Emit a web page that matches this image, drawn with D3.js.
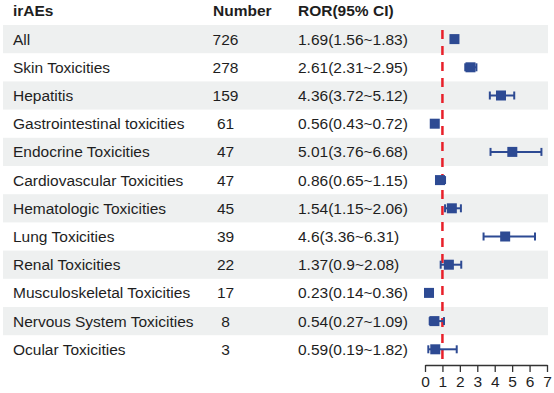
<!DOCTYPE html>
<html>
<head>
  <meta charset="utf-8">
  <script src="https://d3js.org/d3.v7.min.js"></script>
  <style>
    body { margin: 0; background: #fff; }
    text { font-family: "Liberation Sans", Arial, sans-serif; fill: #1e1e1e; }
  </style>
</head>
<body>
<script>
  // irAE categories and their report counts
  var categories = ["All", "Skin Toxicities", "Hepatitis", "Gastrointestinal toxicities",
    "Endocrine Toxicities", "Cardiovascular Toxicities", "Hematologic Toxicities",
    "Lung Toxicities", "Renal Toxicities", "Musculoskeletal Toxicities",
    "Nervous System Toxicities", "Ocular Toxicities"];
  var numbers = [726, 278, 159, 61, 47, 47, 45, 39, 22, 17, 8, 3];

  // ROR and 95% CI
  var ror   = [1.69, 2.61, 4.36, 0.56, 5.01, 0.86, 1.54, 4.6, 1.37, 0.23, 0.54, 0.59];
  var lower = [1.56, 2.31, 3.72, 0.43, 3.76, 0.65, 1.15, 3.36, 0.9, 0.14, 0.27, 0.19];
  var upper = [1.83, 2.95, 5.12, 0.72, 6.68, 1.15, 2.06, 6.31, 2.08, 0.36, 1.09, 1.82];

  var xTicks = [0, 1, 2, 3, 4, 5, 6, 7];
  var headers = ["irAEs", "Number", "ROR(95% CI)"];

  var width = 554, height = 393;
  var blue = "#2d4a93", red = "#e8202a";
  var fs = "15.5px";

  var svg = d3.select("body").append("svg")
      .attr("width", width)
      .attr("height", height);

  var y = d3.scaleBand()
      .domain(categories)
      .range([25, 25 + categories.length * 28.2]);
  var bw = y.bandwidth();
  function cy(c) { return y(c) + bw / 2; }

  var x = d3.scaleLinear().domain([0, 7]).range([425, 547]);

  var rows = categories.map(function (c, i) {
    return { name: c, n: numbers[i], ror: ror[i], lo: lower[i], hi: upper[i] };
  });

  // alternating shaded bands
  svg.selectAll("rect.band")
      .data(rows.filter(function (d, i) { return i % 2 === 0; }))
      .enter().append("rect")
      .attr("class", "band")
      .attr("x", 3)
      .attr("width", 545)
      .attr("y", function (d) { return y(d.name); })
      .attr("height", bw)
      .style("fill", "#eef0f0");

  // headers
  var colX = [13, 213, 298];
  svg.selectAll("text.head")
      .data(headers)
      .enter().append("text")
      .attr("class", "head")
      .attr("x", function (d, i) { return colX[i]; })
      .attr("y", 16)
      .style("font-size", fs)
      .style("font-weight", "bold")
      .text(function (d) { return d; });

  var rowText = svg.selectAll("g.row")
      .data(rows)
      .enter().append("g")
      .attr("class", "row")
      .attr("transform", function (d) { return "translate(0," + cy(d.name) + ")"; });

  rowText.append("text")
      .attr("x", 13).attr("dy", "0.35em")
      .style("font-size", fs)
      .text(function (d) { return d.name; });

  rowText.append("text")
      .attr("x", 225.5).attr("dy", "0.35em")
      .style("font-size", fs)
      .style("text-anchor", "middle")
      .text(function (d) { return d.n; });

  rowText.append("text")
      .attr("x", 298).attr("dy", "0.35em")
      .style("font-size", fs)
      .text(function (d) { return d.ror + "(" + d.lo + "~" + d.hi + ")"; });

  // reference line at ROR = 1
  svg.append("line")
      .attr("x1", x(1)).attr("x2", x(1))
      .attr("y1", 30).attr("y2", 365)
      .style("stroke", red)
      .style("stroke-width", 2.5)
      .style("stroke-dasharray", "9,7");

  // CI whiskers
  var ci = svg.selectAll("g.ci")
      .data(rows)
      .enter().append("g")
      .attr("class", "ci")
      .attr("transform", function (d) { return "translate(0," + cy(d.name) + ")"; });

  ci.append("line")
      .attr("x1", function (d) { return x(d.lo); })
      .attr("x2", function (d) { return x(d.hi); })
      .style("stroke", blue).style("stroke-width", 2);

  ci.selectAll("line.cap")
      .data(function (d) { return [d.lo, d.hi]; })
      .enter().append("line")
      .attr("class", "cap")
      .attr("x1", function (v) { return x(v); })
      .attr("x2", function (v) { return x(v); })
      .attr("y1", -4).attr("y2", 4)
      .style("stroke", blue).style("stroke-width", 2);

  ci.append("rect")
      .attr("x", function (d) { return x(d.ror) - 5; })
      .attr("y", -5)
      .attr("width", 10).attr("height", 10)
      .style("fill", blue);

  // x axis
  var axis = svg.append("g")
      .attr("transform", "translate(0,365)")
      .call(d3.axisBottom(x).tickValues(xTicks).tickFormat(d3.format("d"))
        .tickSize(7).tickSizeOuter(0));

  axis.select(".domain").style("stroke", "#333").style("stroke-width", 1.3);
  axis.selectAll(".tick line").style("stroke", "#333").style("stroke-width", 1.3);
  axis.selectAll(".tick text")
      .attr("y", 11)
      .style("font-size", fs)
      .style("font-family", "Liberation Sans, Arial, sans-serif")
      .style("fill", "#1e1e1e");
</script>
</body>
</html>
